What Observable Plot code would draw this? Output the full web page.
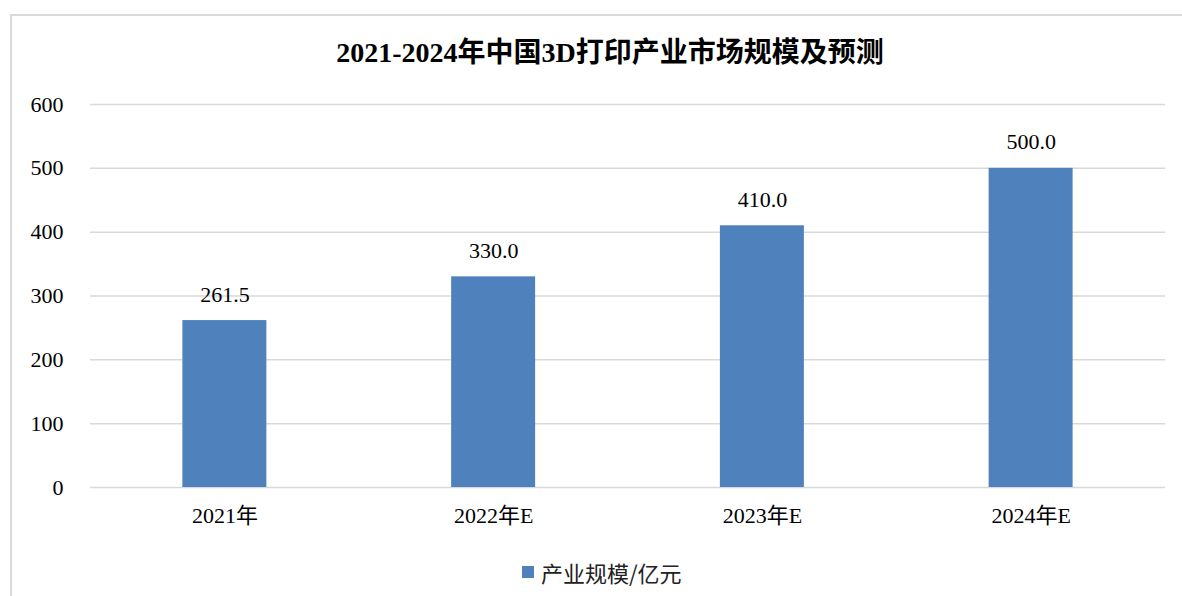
<!DOCTYPE html>
<html>
<head>
<meta charset="utf-8">
<script src="https://cdn.jsdelivr.net/npm/d3@7"></script>
<script src="https://cdn.jsdelivr.net/npm/@observablehq/plot@0.6"></script>
<style>
  html, body { margin: 0; padding: 0; background: #fff; }
  #wrap { position: relative; width: 1182px; height: 596px; overflow: hidden; background: #fff; }
  #frame { position: absolute; left: 10px; top: 14px; width: 1220px; height: 640px; border: 2px solid #d9d9d9; box-sizing: border-box; }
  #title { position: absolute; left: 0; width: 1220px; top: 34px; text-align: center; font-family: "Liberation Serif", "Noto Sans CJK SC", serif; font-weight: bold; font-size: 28px; line-height: 38px; color: #000; }
  #chart { position: absolute; left: 0; top: 0; }
  #legend { position: absolute; left: 522px; top: 556px; height: 32px; display: flex; align-items: center; font-family: "Noto Sans CJK SC", sans-serif; font-size: 22px; color: #222; }
  #legend .sw { width: 12px; height: 12px; background: #4f81bd; margin-right: 7px; }
</style>
</head>
<body>
<div id="wrap">
  <div id="frame"></div>
  <div id="chart"></div>
  <div id="title">2021-2024年中国3D打印产业市场规模及预测</div>
  <div id="legend"><div class="sw"></div><span id="legtext"></span></div>
</div>
<script>
const categories = ["2021年", "2022年E", "2023年E", "2024年E"];
const values = [261.5, 330.0, 410.0, 500.0];
const yTicks = [0, 100, 200, 300, 400, 500, 600];
const seriesName = "产业规模/亿元";

const data = categories.map((c, i) => ({ category: c, value: values[i] }));
document.getElementById("legtext").textContent = seriesName;

const serif = "'Liberation Serif', 'Noto Sans CJK SC', serif";

const plot = Plot.plot({
  width: 1182,
  height: 596,
  marginLeft: 90,
  marginRight: 17,
  marginTop: 104,
  marginBottom: 109,
  style: { fontFamily: serif, fontSize: "22px", color: "#000", background: "transparent", overflow: "visible" },
  x: { domain: categories, paddingInner: 0.6875, paddingOuter: 0.34375, round: false, label: null },
  y: { domain: [0, 600], label: null },
  marks: [
    Plot.gridY(yTicks, { stroke: "#d9d9d9", strokeOpacity: 1, strokeWidth: 1.5 }),
    Plot.barY(data, { x: "category", y: "value", fill: "#4f81bd" }),
    Plot.text(data, { x: "category", y: "value", text: d => d.value.toFixed(1), dy: -26, fontSize: 22, fill: "#000", fontFamily: serif }),
    Plot.axisY(yTicks, { tickSize: 0, tickPadding: 27, fontSize: 22, label: null, tickFormat: d => String(d) }),
    Plot.axisX({ tickSize: 0, tickPadding: 20, fontSize: 22, label: null })
  ]
});
document.getElementById("chart").appendChild(plot);
</script>
</body>
</html>
